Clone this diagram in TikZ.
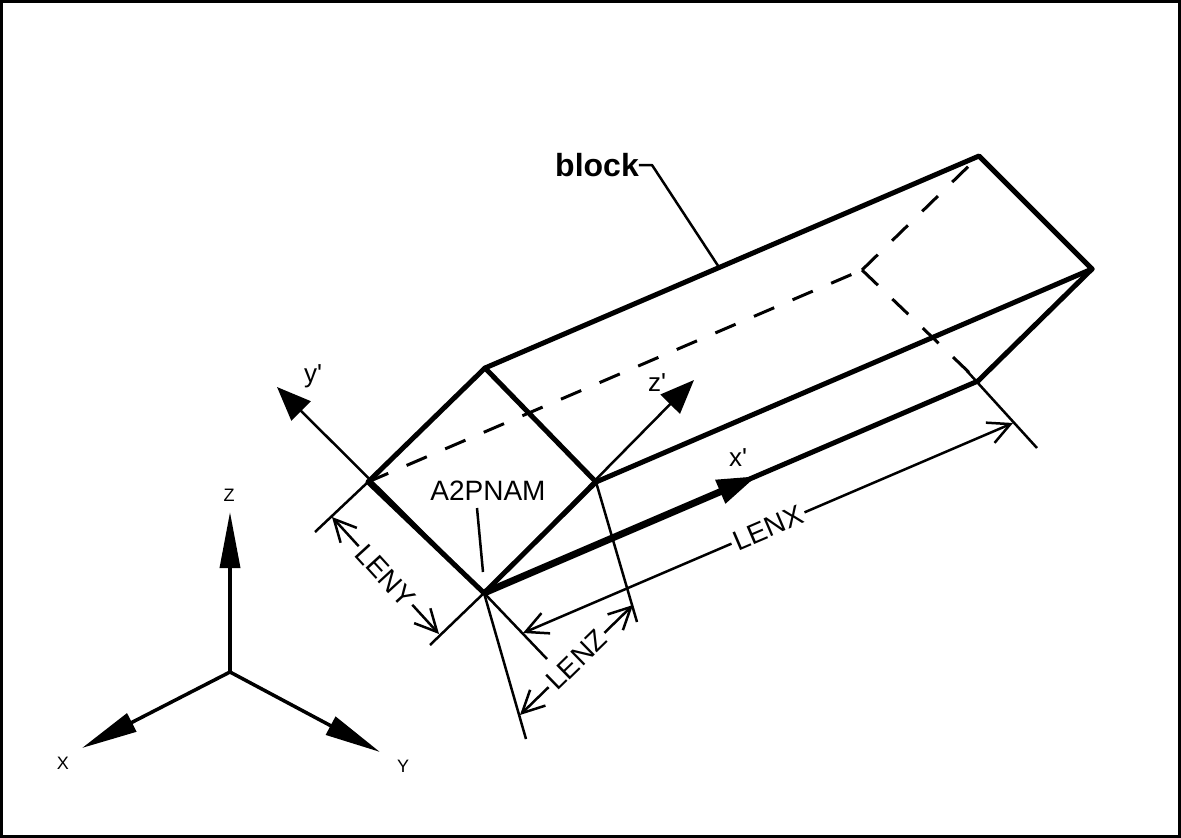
\documentclass[tikz,border=0pt]{standalone}
\usepackage{fontspec}
\setmainfont{Liberation Sans}[Ligatures=TeXOff]
\usetikzlibrary{arrows.meta,calc}
\begin{document}
\begin{tikzpicture}[x=1pt,y=-1pt,
  edge/.style={line width=5pt, line cap=round, line join=round},
  hid/.style={line width=3pt, dash pattern=on 22pt off 20pt},
  thinline/.style={line width=2.5pt},
  gaxis/.style={line width=3.5pt, -{Triangle[length=56pt,width=20pt]}},
  paxis/.style={line width=2.5pt, -{Triangle[length=34pt,width=27pt]}},
  dim/.style={line width=2.5pt, {Straight Barb[length=22pt,width=22pt]}-{Straight Barb[length=22pt,width=22pt]}},
  dimlbl/.style={sloped, fill=white, inner sep=3pt, font=\fontsize{28}{30}\selectfont},
  lbl/.style={inner sep=0pt, font=\fontsize{28}{30}\selectfont},
  plbl/.style={inner sep=0pt, font=\fontsize{26}{28}\selectfont},
  glbl/.style={inner sep=0pt, font=\fontsize{18}{20}\selectfont}
]
\useasboundingbox (0,0) rectangle (1181,838);
\draw[line width=3pt] (1.5,1.5) rectangle (1179.5,836.5);

% block vertices
\coordinate (A) at (484,593);
\coordinate (L) at (368,482);
\coordinate (T) at (485,368);
\coordinate (R) at (596,482);
\coordinate (A2) at (978,381);
\coordinate (L2) at (862,270);
\coordinate (T2) at (979,156);
\coordinate (R2) at (1092,269);

% hidden edges
\draw[hid] (L) -- (L2);
\draw[hid] (L2) -- (T2);
\draw[hid] (L2) -- (A2);

% local axes
\coordinate (yp) at (277,387);
\coordinate (zp) at (694,380);
\coordinate (xp) at (757,476);
\draw[paxis] (A) -- (yp);
\draw[paxis] (A) -- (zp);

% visible edges
\draw[edge] (A) -- (L) -- (T) -- (R) -- cycle;
\draw[edge] (T) -- (T2) -- (R2) -- (A2) -- (A);
\draw[edge] (R) -- (R2);
\draw[line width=7pt, -{Triangle[length=40pt,width=24pt]}] (A) -- (xp);

\node[plbl] (ylab) at (313,376) {y'};
\node[plbl] (zlab) at (657,383) {z'};
\node[plbl] (xlab) at (738,458) {x'};

% extension lines
\coordinate (ey1) at (315,532);
\coordinate (ey2) at (430,645);
\coordinate (ez1) at (526,739);
\coordinate (ez2) at (637,622);
\coordinate (ex1) at (547,659);
\coordinate (ex0) at (967,371);
\coordinate (ex2) at (1037,448);
\draw[thinline] (L) -- (ey1);
\draw[thinline] (A) -- (ey2);
\draw[thinline] (A) -- (ez1);
\draw[thinline] (R) -- (ez2);
\draw[thinline] (A) -- (ex1);
\draw[thinline] (ex0) -- (ex2);

% dimension lines
\coordinate (ly1) at (332,517);
\coordinate (ly2) at (439,634);
\coordinate (lz1) at (520,715);
\coordinate (lz2) at (633,605);
\coordinate (lx1) at (523,633);
\coordinate (lx2) at (1013,423);
\draw[dim] (ly1) -- node[dimlbl] (leny) {LENY} (ly2);
\draw[dim] (lz1) -- node[dimlbl] (lenz) {LENZ} (lz2);
\draw[dim] (lx1) -- node[dimlbl] (lenx) {LENX} (lx2);

% A2PNAM label
\node[lbl] (a2p) at (488,491) {A2PNAM};
\coordinate (a2pl1) at (477,508);
\coordinate (a2pl2) at (483,572);
\draw[thinline] (a2pl1) -- (a2pl2);

% block label
\node[inner sep=0pt, font=\fontsize{32}{34}\selectfont\bfseries] (blk) at (597,165) {block};
\coordinate (bl1) at (652,165);
\coordinate (bl2) at ($(T)!0.474!(T2)$);
\draw[thinline, line join=round] (blk.east) -- (bl1) -- (bl2);

% global axes
\coordinate (O) at (230,672);
\coordinate (Zt) at (230,512);
\coordinate (Xt) at (82,748);
\coordinate (Yt) at (380,752);
\draw[gaxis] (O) -- (Zt);
\draw[gaxis] (O) -- (Xt);
\draw[gaxis] (O) -- (Yt);
\node[glbl] (Xl) at (63,763) {X};
\node[glbl] (Yl) at (403,766) {Y};
\node[glbl] (Zl) at (229,495) {Z};
\end{tikzpicture}
\end{document}
